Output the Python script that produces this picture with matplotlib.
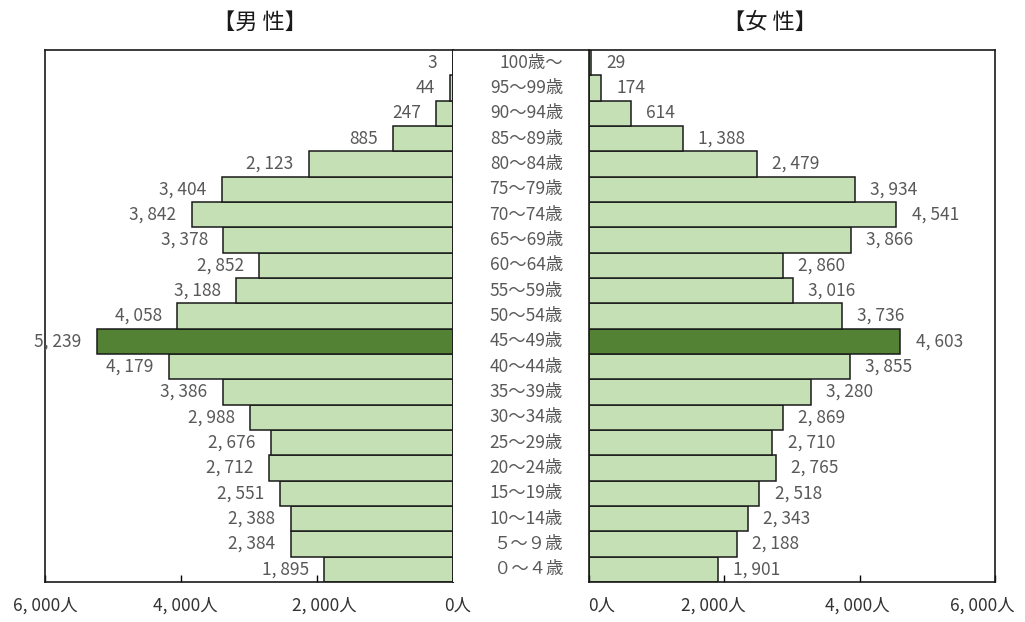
import matplotlib
matplotlib.use("Agg")
import matplotlib.pyplot as plt

plt.rcParams['font.family'] = ['Noto Sans CJK JP', 'DejaVu Sans']

# Age groups, youngest first
ages = ["０～４歳", "５～９歳", "10～14歳", "15～19歳", "20～24歳", "25～29歳",
        "30～34歳", "35～39歳", "40～44歳", "45～49歳", "50～54歳", "55～59歳",
        "60～64歳", "65～69歳", "70～74歳", "75～79歳", "80～84歳", "85～89歳",
        "90～94歳", "95～99歳", "100歳～"]
male = [1895, 2384, 2388, 2551, 2712, 2676, 2988, 3386, 4179, 5239, 4058,
        3188, 2852, 3378, 3842, 3404, 2123, 885, 247, 44, 3]
female = [1901, 2188, 2343, 2518, 2765, 2710, 2869, 3280, 3855, 4603, 3736,
          3016, 2860, 3866, 4541, 3934, 2479, 1388, 614, 174, 29]
peak_group = "45～49歳"
xticks = [0, 2000, 4000, 6000]

LIGHT = "#c5e0b4"
DARK = "#548235"
TEXT = "#595959"

def fmt(v):
    return "{:,}".format(v).replace(",", ", ")

W, H = 1025, 622
fig = plt.figure(figsize=(W / 100, H / 100), dpi=100)

top, bottom = 50, 582
ax_l = fig.add_axes([45 / W, (H - bottom) / H, 408 / W, (bottom - top) / H])
ax_c = fig.add_axes([453 / W, (H - bottom) / H, 136 / W, (bottom - top) / H])
ax_r = fig.add_axes([589 / W, (H - bottom) / H, 406 / W, (bottom - top) / H])

y = list(range(len(ages)))
colors = [DARK if a == peak_group else LIGHT for a in ages]

# horizontal nudges (points) for the tick labels of each panel
nudges = {-1: [3, 5, 3, 0], 1: [9, -8, -2, -9]}

for ax, vals, side in [(ax_l, male, -1), (ax_r, female, 1)]:
    ax.barh(y, vals, height=1.0, color=colors, edgecolor="#1a1a1a", linewidth=1.1)
    ax.set_xlim(0, 6000)
    ax.set_ylim(-0.5, len(ages) - 0.5)
    if side < 0:
        ax.invert_xaxis()
    for yi, v in zip(y, vals):
        ax.annotate(fmt(v), (v, yi), xytext=(11 * side, 0), textcoords="offset points",
                    ha="right" if side < 0 else "left", va="center",
                    fontsize=12.5, color=TEXT)
    ax.set_yticks([])
    ax.set_xticks(xticks)
    ax.set_xticklabels([])
    ax.tick_params(axis="x", direction="in", length=5, width=1)
    # tick labels drawn by hand so each can be nudged
    for t, dx in zip(xticks, nudges[side]):
        ax.annotate(fmt(t) + "人", (t, 0), xycoords=ax.get_xaxis_transform(),
                    xytext=(dx, -17), textcoords="offset points",
                    ha="center", va="center", fontsize=12.5, color="#333333",
                    annotation_clip=False)
    for s in ax.spines.values():
        s.set_linewidth(1.2)
        s.set_color("#1a1a1a")

# centre column: age labels, top border only
ax_c.set_xlim(0, 1)
ax_c.set_ylim(-0.5, len(ages) - 0.5)
ax_c.set_xticks([])
ax_c.set_yticks([])
for name, s in ax_c.spines.items():
    s.set_visible(name == "top")
    s.set_linewidth(1.2)
    s.set_color("#1a1a1a")
for yi, a in zip(y, ages):
    ax_c.text(110 / 136, yi, a, ha="right", va="center", fontsize=12.5, color=TEXT)

fig.text(260 / W, 1 - 22 / H, "【男 性】", ha="center", va="center", fontsize=16,
         color="#1a1a1a")
fig.text(770 / W, 1 - 22 / H, "【女 性】", ha="center", va="center", fontsize=16,
         color="#1a1a1a")

fig.savefig("out.png", dpi=100)
